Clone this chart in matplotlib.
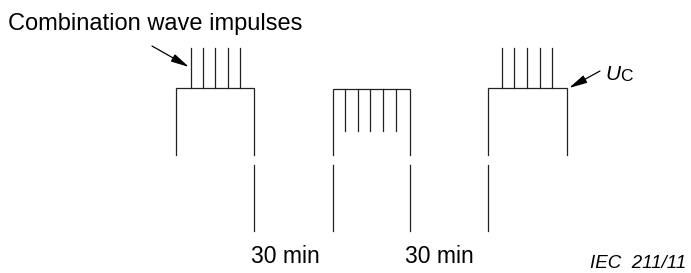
import matplotlib.pyplot as plt

plt.rcParams['font.family'] = ['Liberation Sans', 'DejaVu Sans']

# diagram coordinates in pixel units (y grows downward)
block_left = [176, 333, 488]
block_right = [254.5, 410, 567]
block_top = [88, 89, 88]
block_bottom = [155, 155, 155]

# impulse x positions and their spans
impulses_1 = [191, 203, 215.5, 228, 240.5]
impulses_2 = [345.5, 358, 370.5, 383.5, 396]
impulses_3 = [502, 514.5, 527.5, 540, 552.5]
impulse_spans = [(48, 88), (89, 131), (48, 88)]

# lower time markers
marker_x = [254, 333, 410, 488]
marker_span = (165, 231)

labels_30min = ['30 min', '30 min']
labels_30min_x = [251, 405]

fig = plt.figure(figsize=(6.91, 2.73), dpi=100)
ax = fig.add_axes([0, 0, 1, 1])
ax.set_xlim(0, 691)
ax.set_ylim(273, 0)
ax.axis('off')

lc = '#222222'
lw = 0.9

for l, r, t, b in zip(block_left, block_right, block_top, block_bottom):
    ax.plot([l, l, r, r], [b, t, t, b], color=lc, lw=lw, solid_joinstyle='miter')

for xs, (y0, y1) in zip([impulses_1, impulses_2, impulses_3], impulse_spans):
    for x in xs:
        ax.plot([x, x], [y0, y1], color=lc, lw=lw)

for x in marker_x:
    ax.plot([x, x], marker_span, color=lc, lw=lw)

# arrows
ax.annotate('', xy=(189, 67), xytext=(152, 46),
            arrowprops=dict(arrowstyle='-|>,head_length=1.1,head_width=0.25',
                            color='black', lw=0.9, shrinkA=0, shrinkB=0))
ax.annotate('', xy=(569, 88), xytext=(600, 71),
            arrowprops=dict(arrowstyle='-|>,head_length=1.1,head_width=0.25',
                            color='black', lw=0.9, shrinkA=0, shrinkB=0))

ax.text(8, 24, 'Combination wave impulses', fontsize=17, va='center', ha='left')
ax.text(605, 80, 'U', fontsize=15, style='italic', va='baseline', ha='left')
ax.text(620, 81, 'C', fontsize=12.5, va='baseline', ha='left')

for x, s in zip(labels_30min_x, labels_30min):
    ax.text(x, 263, s, fontsize=16.5, va='baseline', ha='left')

ax.text(590, 268, 'IEC  211/11', fontsize=13.5, style='italic', va='baseline', ha='left')

plt.savefig('out.png', dpi=100)
